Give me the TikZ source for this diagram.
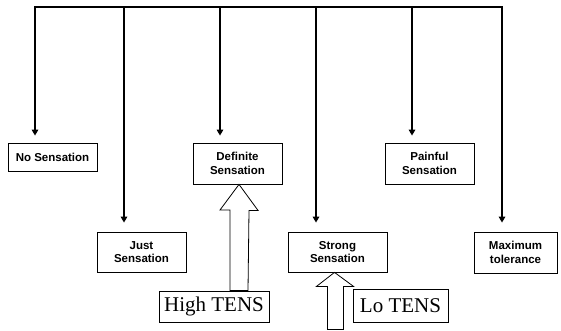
\documentclass[tikz,border=0pt]{standalone}
\usepackage{fontspec}
\setmainfont{Liberation Serif}
\setsansfont{Liberation Sans}
\usetikzlibrary{arrows.meta}
\begin{document}
\begin{tikzpicture}[x=1pt,y=-1pt,
  box/.style={draw, line width=0.8pt, font=\sffamily\bfseries\fontsize{11.5}{13.5}\selectfont, align=center, inner sep=0pt},
  bus/.style={line width=2.2pt, line cap=rect},
  arr/.style={line width=2.2pt, -{Triangle[length=6pt,width=6.5pt]}},
  tens/.style={draw, line width=0.8pt, font=\fontsize{21}{24}\selectfont, inner sep=0pt},
  block/.style={draw, line width=0.8pt, fill=white, line join=miter}]
\useasboundingbox (0,0) rectangle (561,331);
% boxes
\node[box, minimum width=89pt, minimum height=28pt] (no) at (52.5,157) {No Sensation};
\node[box, minimum width=89pt, minimum height=40pt] (just) at (141.5,252) {Just\\Sensation};
\node[box, minimum width=89pt, minimum height=41pt] (def) at (237.5,163.5) {Definite\\Sensation};
\node[box, minimum width=99pt, minimum height=40pt] (strong) at (337.5,252) {Strong\\Sensation};
\node[box, minimum width=89pt, minimum height=41pt] (pain) at (429.5,163.5) {Painful\\Sensation};
\node[box, minimum width=83pt, minimum height=41pt] (max) at (515.5,252.5) {Maximum\\tolerance};
\node[tens, minimum width=110pt, minimum height=31pt] (high) at (214,306.5) {High TENS};
\node[tens, minimum width=95pt, minimum height=33pt] (lo) at (400.5,305.5) {Lo TENS};
% bus
\coordinate (t1) at (35,7);
\coordinate (t2) at (124,7);
\coordinate (t3) at (220,7);
\coordinate (t4) at (316,7);
\coordinate (t5) at (412,7);
\coordinate (t6) at (502,7);
\draw[bus] (t1) -- (t6);
\draw[arr] (t1) -- ([yshift=7pt]no.north -| t1);
\draw[arr] (t2) -- ([yshift=9pt]just.north -| t2);
\draw[arr] (t3) -- ([yshift=7pt]def.north -| t3);
\draw[arr] (t4) -- ([yshift=9pt]strong.north -| t4);
\draw[arr] (t5) -- ([yshift=7pt]pain.north -| t5);
\draw[arr] (t6) -- ([yshift=9pt]max.north -| t6);
% block arrows
\draw[block] ([xshift=1.5pt]def.south) -- ++(19,26) -- ++(-9,0) -- (high.north -| 248,0) -- (high.north -| 230,0) -- (230,210) -- (220,210) -- cycle;
\draw[block] ([xshift=-3pt]strong.south) -- ++(19,14) -- ++(-10,0) -- ++(0,43) -- ++(-16,0) -- ++(0,-43) -- ++(-11,0) -- cycle;
\end{tikzpicture}
\end{document}
